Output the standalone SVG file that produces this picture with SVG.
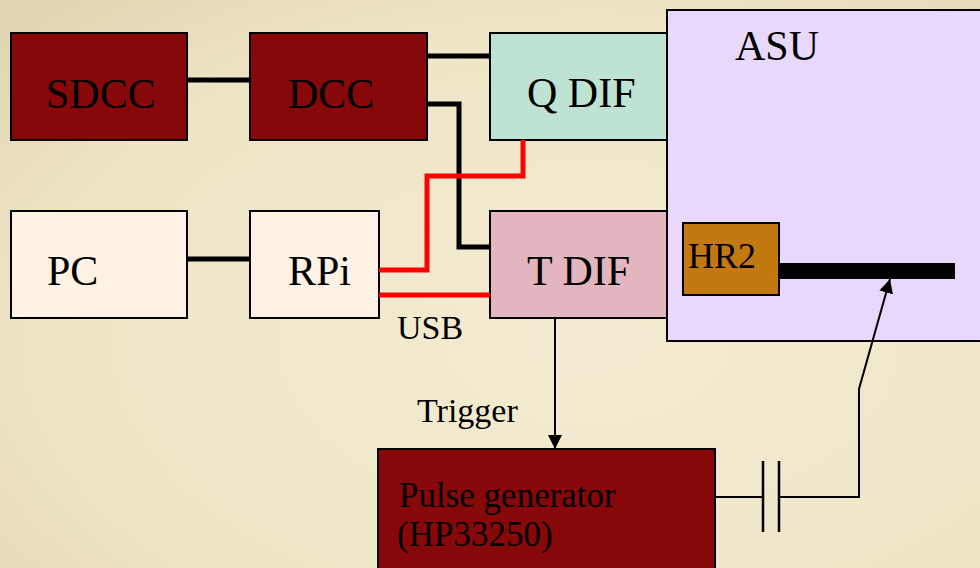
<svg xmlns="http://www.w3.org/2000/svg" width="980" height="568" viewBox="0 0 980 568">
<defs>
<radialGradient id="bg" cx="0.6" cy="0.6" r="0.8">
<stop offset="0" stop-color="#f3ecd2"/>
<stop offset="0.7" stop-color="#eee5c6"/>
<stop offset="1" stop-color="#e2d6b2"/>
</radialGradient>
<marker id="ah2" viewBox="0 0 10 10" refX="10" refY="5" markerWidth="14" markerHeight="14" markerUnits="userSpaceOnUse" orient="auto">
<path d="M0,0 L10,5 L0,10 z" fill="#000"/>
</marker>
</defs>
<style>
.box{stroke:#000;stroke-width:2}
.dark{fill:#860808}
.t{fill:#000}
.big{font-size:42px}
.med{font-size:34px}
.bus{fill:none;stroke:#000;stroke-width:5}
.red{fill:none;stroke:#ff0000;stroke-width:5}
.thin{fill:none;stroke:#000;stroke-width:2}
</style>
<rect width="980" height="568" fill="url(#bg)"/>
<g font-family="Liberation Serif, DejaVu Serif, serif">
<g id="asu">
<rect class="box" x="667" y="10" width="320" height="331" fill="#e8d9fc"/>
<text class="t big" x="735" y="60">ASU</text>
</g>
<g id="sdcc">
<rect class="box dark" x="11" y="33" width="176" height="107"/>
<text class="t big" x="46" y="108">SDCC</text>
</g>
<g id="dcc">
<rect class="box dark" x="250" y="33" width="177" height="107"/>
<text class="t big" x="288" y="108">DCC</text>
</g>
<g id="qdif">
<rect class="box" x="490" y="33" width="177" height="107" fill="#bfe3d3"/>
<text class="t big" x="527" y="107">Q DIF</text>
</g>
<g id="tdif">
<rect class="box" x="490" y="211" width="177" height="107" fill="#e3b5be"/>
<text class="t big" x="527" y="285">T DIF</text>
</g>
<g id="pc">
<rect class="box" x="11" y="211" width="176" height="107" fill="#fdf2e3"/>
<text class="t big" x="47" y="285">PC</text>
</g>
<g id="rpi">
<rect class="box" x="250" y="211" width="129" height="107" fill="#fdf2e3"/>
<text class="t big" x="288" y="285">RPi</text>
</g>
<g id="hr2">
<rect class="box" x="683" y="223" width="96" height="72" fill="#c47810"/>
<text class="t" font-size="36" x="688" y="268">HR2</text>
</g>
<g id="pulse">
<rect class="box dark" x="378" y="449" width="337" height="125"/>
<text class="t" font-size="35" x="399" y="507">Pulse generator</text>
<text class="t" font-size="35" x="397" y="546">(HP33250)</text>
</g>

<g id="connectors">
<line class="bus" x1="187" y1="80" x2="250" y2="80"/>
<line class="bus" x1="427" y1="56" x2="490" y2="56"/>
<polyline class="bus" points="427,104 459,104 459,247 490,247"/>
<line class="bus" x1="187" y1="259" x2="250" y2="259"/>
<polyline class="red" points="523,140 523,176 427,176 427,270 379,270"/>
<line class="red" x1="379" y1="295" x2="490" y2="295"/>
<rect x="779" y="263" width="176" height="16" fill="#000"/>
<line class="thin" x1="555" y1="318" x2="555" y2="449" marker-end="url(#ah2)"/>
<line class="thin" x1="715" y1="497" x2="763" y2="497"/>
<line x1="763" y1="461" x2="763" y2="532" stroke="#000" stroke-width="2.5"/>
<line x1="779" y1="461" x2="779" y2="532" stroke="#000" stroke-width="2.5"/>
<polyline class="thin" points="779,497 859,497 859,389 890,279" marker-end="url(#ah2)"/>
</g>
<text class="t med" x="397" y="339">USB</text>
<text class="t med" x="417" y="422">Trigger</text>
</g>
</svg>
